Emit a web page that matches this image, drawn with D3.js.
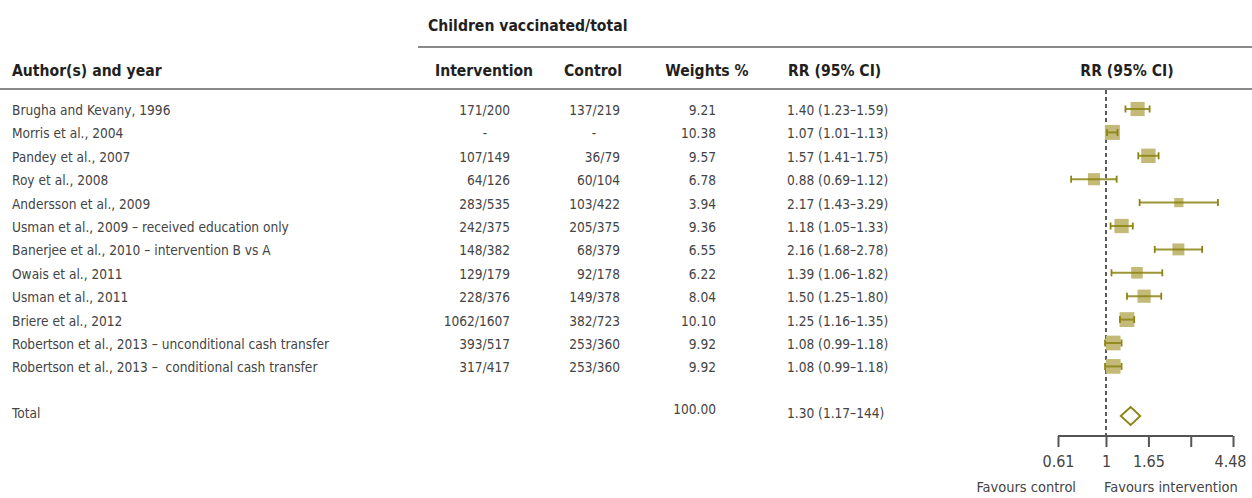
<!DOCTYPE html>
<html><head><meta charset="utf-8">
<script src="https://cdn.jsdelivr.net/npm/d3@7"></script>
<style>
body{margin:0;background:#fff;}
svg text{font-family:"Liberation Sans Narrow","DejaVu Sans Condensed","Roboto Condensed","Liberation Sans",sans-serif;font-stretch:condensed;white-space:pre;}
</style></head>
<body><svg id="c" width="1252" height="498"></svg>
<script>
const authors = ["Brugha and Kevany, 1996","Morris et al., 2004","Pandey et al., 2007","Roy et al., 2008","Andersson et al., 2009","Usman et al., 2009 \u2013 received education only","Banerjee et al., 2010 \u2013 intervention B vs A","Owais et al., 2011","Usman et al., 2011","Briere et al., 2012","Robertson et al., 2013 \u2013 unconditional cash transfer","Robertson et al., 2013 \u2013  conditional cash transfer"];
const intervention = ["171/200","-","107/149","64/126","283/535","242/375","148/382","129/179","228/376","1062/1607","393/517","317/417"];
const control = ["137/219","-","36/79","60/104","103/422","205/375","68/379","92/178","149/378","382/723","253/360","253/360"];
const weights = [9.21,10.38,9.57,6.78,3.94,9.36,6.55,6.22,8.04,10.10,9.92,9.92];
const rr = [1.40,1.07,1.57,0.88,2.17,1.18,2.16,1.39,1.50,1.25,1.08,1.08];
const lo = [1.23,1.01,1.41,0.69,1.43,1.05,1.68,1.06,1.25,1.16,0.99,0.99];
const hi = [1.59,1.13,1.75,1.12,3.29,1.33,2.78,1.82,1.80,1.35,1.18,1.18];
const rrText = ["1.40 (1.23\u20131.59)","1.07 (1.01\u20131.13)","1.57 (1.41\u20131.75)","0.88 (0.69\u20131.12)","2.17 (1.43\u20133.29)","1.18 (1.05\u20131.33)","2.16 (1.68\u20132.78)","1.39 (1.06\u20131.82)","1.50 (1.25\u20131.80)","1.25 (1.16\u20131.35)","1.08 (0.99\u20131.18)","1.08 (0.99\u20131.18)"];
const totalLabel = "Total", totalWeight = "100.00", totalText = "1.30 (1.17\u2013144)";
const totalRR = 1.30, totalLo = 1.17, totalHi = 1.44;
const tickValues = [0.61, 1, 1.65, 2.72, 4.48];
const tickLabels = ["0.61","1","1.65","","4.48"];

const svg = d3.select("#c");
const txt = "#444", hdr = "#231f20";
const sqFill = "#c3ba78", ciCol = "#8c8412";
const fs = 13.6, hfs = 15.6;

// scales
const rowY = d3.scaleLinear().domain([0, 1]).range([109, 132.4]);
const totalY = 416;
const xMark = d3.scaleLog().domain([1, Math.E]).range([1106, 1200]);
const xAxis = d3.scaleLog().domain([0.61, 1, 4.48]).range([1058, 1106, 1233]);
const size = d3.scaleSqrt().domain([0, 10.38]).range([0, 15]);

// header lines
svg.append("line").attr("x1",418).attr("x2",1252).attr("y1",47).attr("y2",47).attr("stroke","#8a8a8a").attr("stroke-width",2);
svg.append("line").attr("x1",0).attr("x2",1252).attr("y1",89).attr("y2",89).attr("stroke","#8a8a8a").attr("stroke-width",2);

// headers
const H = (x,y,t,anchor) => svg.append("text").attr("x",x).attr("y",y).attr("text-anchor",anchor||"start")
  .attr("font-size",hfs).attr("font-weight","bold").attr("fill",hdr).text(t);
H(428,31,"Children vaccinated/total");
H(12,76,"Author(s) and year");
H(484,76,"Intervention","middle");
H(593,76,"Control","middle");
H(707,76,"Weights %","middle");
H(788,76,"RR (95% CI)");
H(1127,76,"RR (95% CI)","middle");

// rows
const idx = d3.range(authors.length);
const rows = svg.append("g").selectAll("g").data(idx).join("g")
  .attr("transform", i => `translate(0,${rowY(i)})`);
const T = (sel, x, f, anchor) => sel.append("text").attr("x",x).attr("y",6).attr("text-anchor",anchor)
  .attr("font-size",fs).attr("fill",txt).text(f);
T(rows, 12, i => authors[i], "start");
T(rows, 510, i => intervention[i], "end").filter(i => intervention[i] === "-").attr("x",485).attr("text-anchor","middle");
T(rows, 620, i => control[i], "end").filter(i => control[i] === "-").attr("x",594).attr("text-anchor","middle");
T(rows, 716, i => weights[i].toFixed(2), "end");
T(rows, 787, i => rrText[i], "start");

// total row
const tg = svg.append("g").attr("transform",`translate(0,${totalY-4})`);
tg.append("text").attr("x",12).attr("y",6).attr("font-size",fs).attr("fill",txt).text(totalLabel);
tg.append("text").attr("x",716).attr("y",2).attr("text-anchor","end").attr("font-size",fs).attr("fill",txt).text(totalWeight);
tg.append("text").attr("x",787).attr("y",6).attr("font-size",fs).attr("fill",txt).text(totalText);

// dashed null line
svg.append("line").attr("x1",xMark(1)).attr("x2",xMark(1)).attr("y1",90).attr("y2",436)
  .attr("stroke","#333").attr("stroke-width",1.6).attr("stroke-dasharray","4,3");

// CI and squares
const marks = svg.append("g").selectAll("g").data(idx).join("g")
  .attr("transform", i => `translate(0,${rowY(i)})`);
marks.append("rect").attr("x", i => xMark(rr[i]) - size(weights[i])/2).attr("y", i => -size(weights[i])/2)
  .attr("width", i => size(weights[i])).attr("height", i => size(weights[i])).attr("fill", sqFill);
marks.append("line").attr("x1", i => xMark(lo[i])).attr("x2", i => xMark(hi[i])).attr("y1",0).attr("y2",0)
  .attr("stroke",ciCol).attr("stroke-width",2).attr("stroke-opacity",0.85);
marks.append("line").attr("x1", i => xMark(lo[i])).attr("x2", i => xMark(lo[i])).attr("y1",-3.5).attr("y2",3.5)
  .attr("stroke",ciCol).attr("stroke-width",1.8);
marks.append("line").attr("x1", i => xMark(hi[i])).attr("x2", i => xMark(hi[i])).attr("y1",-3.5).attr("y2",3.5)
  .attr("stroke",ciCol).attr("stroke-width",1.8);

// diamond
const dx0 = xMark(totalLo), dx1 = xMark(totalHi), dc = xMark(totalRR);
svg.append("path").attr("d", `M${dx0},${totalY} L${dc},${totalY-9} L${dx1},${totalY} L${dc},${totalY+9} Z`)
  .attr("fill","#fff").attr("stroke",ciCol).attr("stroke-width",1.8);

// axis
const ax = svg.append("g").attr("transform","translate(0,436)")
  .call(d3.axisBottom(xAxis).tickValues(tickValues).tickFormat((d,i) => tickLabels[i]).tickSizeOuter(0).tickSize(11).tickPadding(9));
ax.select(".domain").attr("stroke","#555").attr("stroke-width",2).attr("d",`M${xAxis(0.61)},0H${xAxis(4.48)}`);
ax.selectAll(".tick line").attr("stroke","#555").attr("stroke-width",2);
ax.selectAll(".tick text").attr("font-size",16).attr("fill",txt).attr("font-family",null)
  .attr("dx", (d,i) => i === 4 ? -3 : 0);
svg.append("text").attr("x",1076).attr("y",492).attr("text-anchor","end").attr("font-size",14.5).attr("fill",txt).text("Favours control");
svg.append("text").attr("x",1104).attr("y",492).attr("text-anchor","start").attr("font-size",14.5).attr("fill",txt).text("Favours intervention");
</script></body></html>
